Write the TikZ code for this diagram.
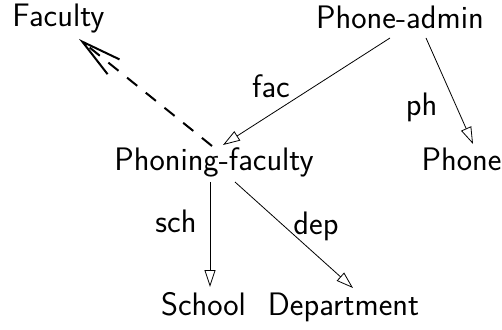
\documentclass[tikz,border=0pt]{standalone}
\usetikzlibrary{arrows.meta}
\begin{document}
\begin{tikzpicture}[x=1pt,y=1pt,
  lbl/.style={anchor=base, inner sep=0pt, font=\sffamily\fontsize{32.5}{39}\selectfont},
  rel/.style={line width=0.8pt, -{Triangle[open, length=17pt, width=11pt]}},
  isa/.style={line width=2pt, dash pattern=on 13pt off 11pt,
    -{Straight Barb[length=40pt, width=19pt, line width=2pt]}}]
\useasboundingbox (0,0) rectangle (502,329);
% classes
\node[lbl] (fa) at (58.5,302) {Faculty};
\node[lbl] (pa) at (400,300) {Phone-admin};
\node[lbl] (pf) at (214,158) {Phoning-faculty};
\node[lbl] (phone) at (461.5,158) {Phone};
\node[lbl] (school) at (203.5,14) {School};
\node[lbl] (dept) at (343.5,14) {Department};
% attribute names
\node[lbl] (lfac) at (271,231) {fac};
\node[lbl] (lph) at (421.5,213) {ph};
\node[lbl] (lsch) at (176,96) {sch};
\node[lbl] (ldep) at (316,95) {dep};
% subclass link
\draw[isa] ([shift={(-2pt,25pt)}]pf.base) -- ([shift={(20.5pt,-12pt)}]fa.base);
% attribute links
\draw[rel] ([shift={(-10pt,-9pt)}]pa.base) -- ([shift={(9pt,26pt)}]pf.base);
\draw[rel] ([shift={(26pt,-9pt)}]pa.base) -- ([shift={(11.5pt,27pt)}]phone.base);
\draw[rel] ([shift={(-4pt,-11pt)}]pf.base) -- ([shift={(6.5pt,28pt)}]school.base);
\draw[rel] ([shift={(21pt,-11pt)}]pf.base) -- ([shift={(9.5pt,27pt)}]dept.base);
\end{tikzpicture}
\end{document}
